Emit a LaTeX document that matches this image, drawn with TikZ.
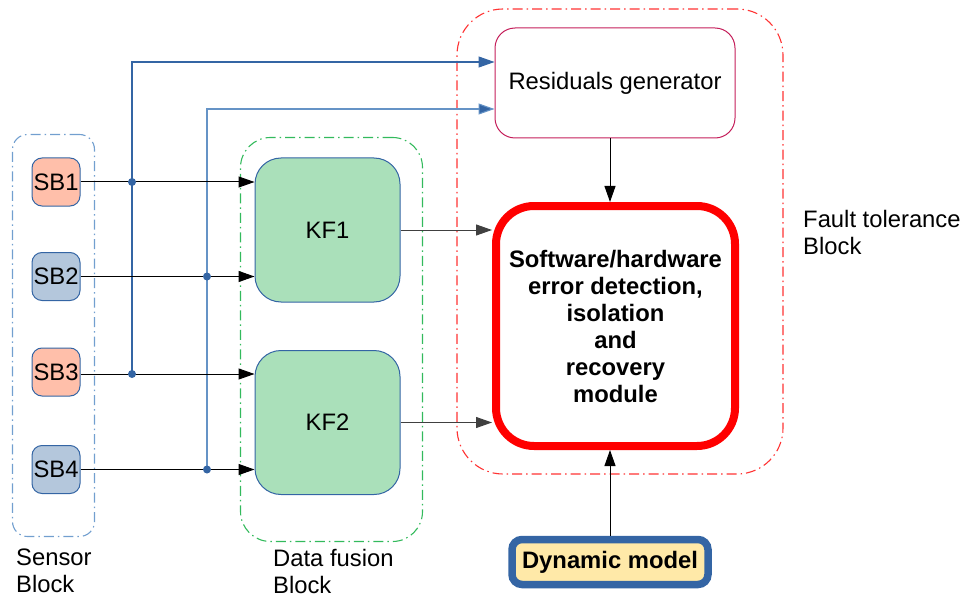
\documentclass[tikz,border=0pt]{standalone}
\usepackage{fontspec}
\setmainfont{Liberation Sans}
\usetikzlibrary{arrows.meta}
\definecolor{sbblue}{RGB}{52,101,164}
\definecolor{lblue}{RGB}{114,159,207}
\definecolor{salmon}{RGB}{255,191,170}
\definecolor{grayblue}{RGB}{180,199,220}
\definecolor{kfgreen}{RGB}{170,224,186}
\definecolor{fgreen}{RGB}{0,169,51}
\definecolor{resred}{RGB}{196,30,90}
\definecolor{dmyellow}{RGB}{255,233,168}
\tikzset{
  every node/.style={font=\fontsize{23.8}{27}\selectfont},
  dashdot/.style={dash pattern=on 10pt off 4pt on 1.5pt off 4pt, line width=1.1pt},
  sbbox/.style={draw=sbblue, line width=1pt, rounded corners=10pt, minimum width=48, minimum height=48, inner sep=0pt},
  kfbox/.style={draw=sbblue, fill=kfgreen, line width=1pt, rounded corners=26pt, minimum width=145, minimum height=144},
  arr/.style={line width=1pt, -{Triangle[length=16pt,width=11pt]}},
  jdot/.style={circle, fill=sbblue, inner sep=0pt, minimum size=8pt},
  lbl/.style={anchor=north west, align=left, inner sep=0pt}
}
\begin{document}
\begin{tikzpicture}[x=1pt,y=-1pt]
\useasboundingbox (0,0) rectangle (963,596);
% blocks
\node[draw=lblue, dashdot, rounded corners=15pt, minimum width=82, minimum height=402] (sensorblk) at (53.5,335.5) {};
\node[draw=fgreen!80, dashdot, rounded corners=30pt, minimum width=182, minimum height=404] (fusionblk) at (331.5,339.5) {};
\node[draw=red!80, dashdot, rounded corners=46pt, minimum width=326, minimum height=465] (faultblk) at (620,241.5) {};
% sensors
\node[sbbox, fill=salmon] (sb1) at (56,182) {SB1};
\node[sbbox, fill=grayblue] (sb2) at (56,276.5) {SB2};
\node[sbbox, fill=salmon] (sb3) at (56,372) {SB3};
\node[sbbox, fill=grayblue] (sb4) at (56,469.5) {SB4};
% KFs
\node[kfbox] (kf1) at (327.5,230) {KF1};
\node[kfbox] (kf2) at (327.5,422.5) {KF2};
% residuals
\node[draw=resred, line width=1pt, rounded corners=20pt, minimum width=240, minimum height=110] (res) at (615,83) {\raisebox{-2pt}{Residuals generator}};
% module
\node[draw=red, line width=8pt, rounded corners=38pt, minimum width=239, minimum height=240, align=center, font=\fontsize{23.8}{27}\selectfont\bfseries] (mod) at (615.5,326) {Software/hardware\\error detection,\\isolation\\and\\recovery\\module};
% dynamic model
\node[draw=sbblue, fill=dmyellow, line width=7.5pt, rounded corners=10pt, minimum width=196, minimum height=45, inner sep=0pt, font=\fontsize{23.8}{27}\selectfont\bfseries] (dm) at (610,562) {Dynamic model};
% labels
\node[lbl] (lsens) at (16,549) {Sensor\\Block};
\node[lbl] (lfus) at (273,549) {Data fusion\\Block};
\node[lbl] (lfault) at (803,210) {Fault tolerance\\Block};
% junction coordinates
\coordinate (t1) at (132,62);
\coordinate (t2) at (207,109);
\coordinate (j1) at (132,182);
\coordinate (j3) at (132,374);
\coordinate (j2) at (207,276.5);
\coordinate (j4) at (207,469.5);
% blue feeders
\draw[sbblue, line width=1.1pt, -{Triangle[length=16pt,width=11pt]}] (j3) -- (t1) -- (t1 -| res.west);
\draw[lblue!80!sbblue, line width=1.1pt, -{Triangle[length=16pt,width=11pt,fill=sbblue]}] (j4) -- (t2) -- (t2 -| res.west);
% sensor to KF
\draw[arr] (sb1.east) -- (sb1.east -| kf1.west);
\draw[arr] (sb2.east) -- (sb2.east -| kf1.west);
\draw[arr] (sb3.east |- j3) -- (j3 -| kf2.west);
\draw[arr] (sb4.east) -- (sb4.east -| kf2.west);
\node[jdot] (dot1) at (j1) {};
\node[jdot] (dot2) at (j2) {};
\node[jdot] (dot3) at (j3) {};
\node[jdot] (dot4) at (j4) {};
% KF to module
\draw[arr, black!75] (kf1.east) -- (kf1.east -| mod.west);
\draw[arr, black!75] (kf2.east) -- (kf2.east -| mod.west);
% residuals to module, dynamic model to module
\draw[arr] (res.south -| dm.north) -- (mod.north -| dm.north);
\draw[arr] (dm.north) -- (dm.north |- mod.south);
\end{tikzpicture}
\end{document}
